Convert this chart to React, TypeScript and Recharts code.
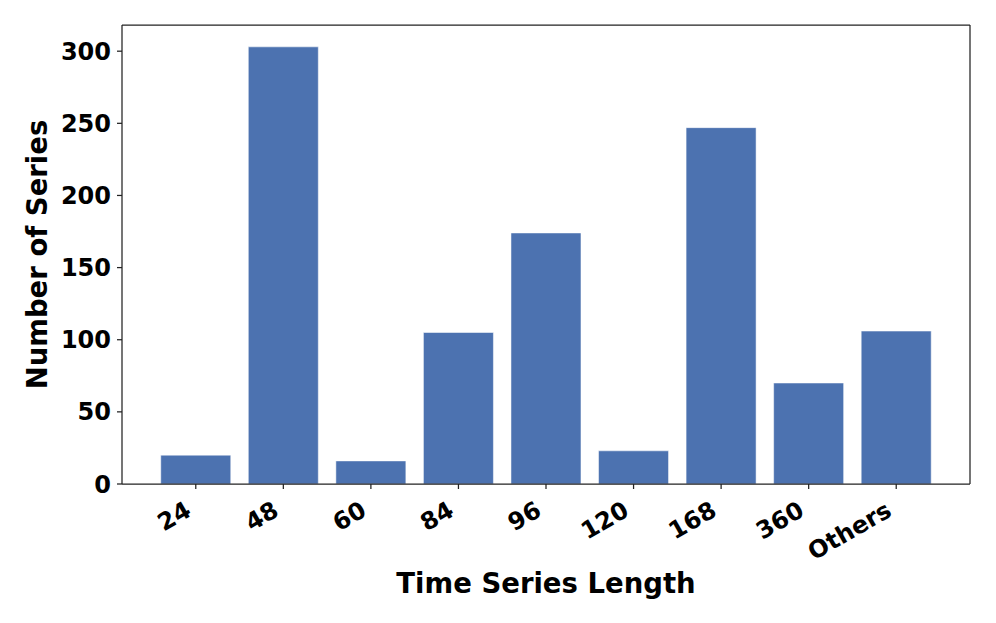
import { BarChart, Bar, XAxis, YAxis } from "recharts";

const lengths = ["24", "48", "60", "84", "96", "120", "168", "360", "Others"];
const seriesCounts = [20, 303, 16, 105, 174, 23, 247, 70, 106];
const yTicks = [0, 50, 100, 150, 200, 250, 300];

const data = lengths.map((length, i) => ({ length, count: seriesCounts[i] }));

const FONT = "'DejaVu Sans', sans-serif";
const SPINE = "#222";

function RotatedTick(props: any) {
    const { x, y, payload } = props;
    const ax = x - 3;
    const ay = y + 24;
    return (
        <text
            x={ax}
            y={ay}
            textAnchor="end"
            transform={`rotate(-30, ${ax}, ${ay})`}
            fontFamily={FONT}
            fontWeight="bold"
            fontSize={24}
            fill="#000"
        >
            {payload.value}
        </text>
    );
}

export default function App() {
    return (
        <div style={{ position: "absolute", left: 0, top: 0, width: 996, height: 623, background: "#fff" }}>
            <BarChart
                width={996}
                height={623}
                data={data}
                margin={{ top: 24, right: 25, bottom: 0, left: 0 }}
                barCategoryGap="10%"
            >
                <XAxis
                    dataKey="length"
                    height={139}
                    padding={{ left: 30, right: 30 }}
                    tick={<RotatedTick />}
                    tickSize={5}
                    interval={0}
                    axisLine={{ stroke: SPINE, strokeWidth: 1.25 }}
                    tickLine={{ stroke: SPINE, strokeWidth: 1.25 }}
                    label={{
                        value: "Time Series Length",
                        position: "insideBottom",
                        offset: 30,
                        fontFamily: FONT,
                        fontWeight: "bold",
                        fontSize: 27.5,
                        fill: "#000",
                    }}
                />
                <XAxis
                    xAxisId="top"
                    orientation="top"
                    dataKey="length"
                    height={1}
                    tick={false}
                    tickLine={false}
                    axisLine={{ stroke: SPINE, strokeWidth: 1.25 }}
                />
                <YAxis
                    width={122}
                    domain={[0, 318.15]}
                    ticks={yTicks}
                    tickSize={5}
                    tickMargin={6}
                    axisLine={{ stroke: SPINE, strokeWidth: 1.25 }}
                    tickLine={{ stroke: SPINE, strokeWidth: 1.25 }}
                    tick={{ fontFamily: FONT, fontWeight: "bold", fontSize: 24, fill: "#000" }}
                    label={{
                        value: "Number of Series",
                        angle: -90,
                        position: "insideLeft",
                        offset: 37,
                        style: { textAnchor: "middle" },
                        fontFamily: FONT,
                        fontWeight: "bold",
                        fontSize: 27.5,
                        fill: "#000",
                    }}
                />
                <YAxis
                    yAxisId="right"
                    orientation="right"
                    width={1}
                    tick={false}
                    tickLine={false}
                    axisLine={{ stroke: SPINE, strokeWidth: 1.25 }}
                />
                <Bar
                    dataKey="count"
                    fill="#4c72b0"
                    stroke="#ffffff"
                    strokeOpacity={0.5}
                    strokeWidth={1}
                    isAnimationActive={false}
                />
            </BarChart>
        </div>
    );
}
